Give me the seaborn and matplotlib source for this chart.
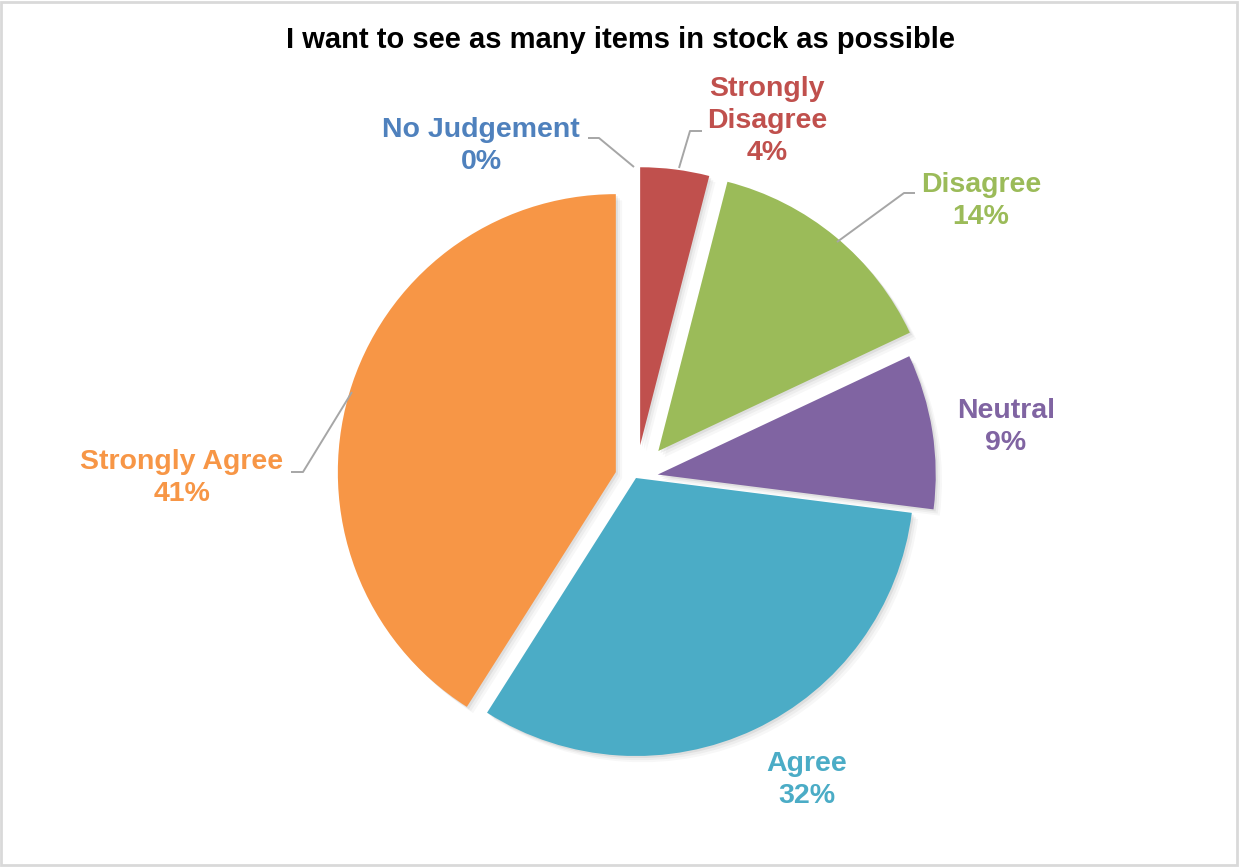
import matplotlib
matplotlib.use("Agg")
import matplotlib.pyplot as plt
import seaborn as sns
from matplotlib.patches import Rectangle
from matplotlib import patheffects as pe

# Survey responses (percent of respondents)
categories = ["No Judgement", "Strongly Disagree", "Disagree", "Neutral", "Agree", "Strongly Agree"]
percent = [0, 4, 14, 9, 32, 41]
palette = ["#4F81BD", "#C0504D", "#9BBB59", "#8064A2", "#4BACC6", "#F79646"]
title = "I want to see as many items in stock as possible"

sns.set_style("white")
plt.rcParams["font.family"] = ["Liberation Sans", "DejaVu Sans"]
colors = sns.color_palette(palette)

W, H = 1239, 867
fig = plt.figure(figsize=(W / 100, H / 100), dpi=100)
ax = fig.add_axes([0, 0, 1, 1])


def pt(x, y):
    """Pixel position (origin top-left) to data coordinates."""
    return x, H - y


# pie geometry (pixels) and per-slice pull-out distance
center = pt(636, 478)
radius = 278
explode = [30, 33, 35, 22, 0, 21]

shadow = [
    pe.SimplePatchShadow(offset=(1.5, -1.5), shadow_rgbFace="black", alpha=0.06),
    pe.SimplePatchShadow(offset=(3, -3), shadow_rgbFace="black", alpha=0.04),
    pe.SimplePatchShadow(offset=(4.5, -4.5), shadow_rgbFace="black", alpha=0.03),
    pe.Normal(),
]

wedges, _ = ax.pie(
    percent,
    colors=colors,
    startangle=90,
    counterclock=False,
    center=center,
    radius=radius,
    explode=explode,
    wedgeprops=dict(linewidth=0),
)
for w, v in zip(wedges, percent):
    if v > 0:
        w.set_path_effects(shadow)

ax.set_xlim(0, W)
ax.set_ylim(0, H)
ax.set_aspect("equal")
ax.axis("off")

# data labels
label_pos = [(481, 146), (767, 121), (981, 201), (1006, 427), (807, 780), (182, 478)]
label_text = {
    "Strongly Disagree": "Strongly\nDisagree",
}
for cat, v, c, (lx, ly) in zip(categories, percent, colors, label_pos):
    name = label_text.get(cat, cat)
    ax.text(*pt(lx, ly), f"{name}\n{v}%", ha="center", va="center",
            fontsize=20.5, fontweight="bold", color=c, linespacing=1.3)

# leader lines
leaders = [
    [(588, 138), (599, 138), (634, 167)],
    [(702, 131), (690, 131), (679, 168)],
    [(915, 193), (904, 193), (837, 242)],
    [(291, 472), (303, 472), (352, 392)],
]
for seg in leaders:
    xs, ys = zip(*[pt(x, y) for x, y in seg])
    ax.plot(xs, ys, color="#A6A6A6", lw=1.4, solid_capstyle="butt")

ax.text(*pt(620, 40), title, ha="center", va="center",
        fontsize=21, fontweight="bold", color="black")

# chart border
fig.add_artist(Rectangle((0.001, 0.002), 0.997, 0.996, transform=fig.transFigure,
                         fill=False, edgecolor="#D9D9D9", lw=2))

fig.savefig("out.png", dpi=100, facecolor="white")
